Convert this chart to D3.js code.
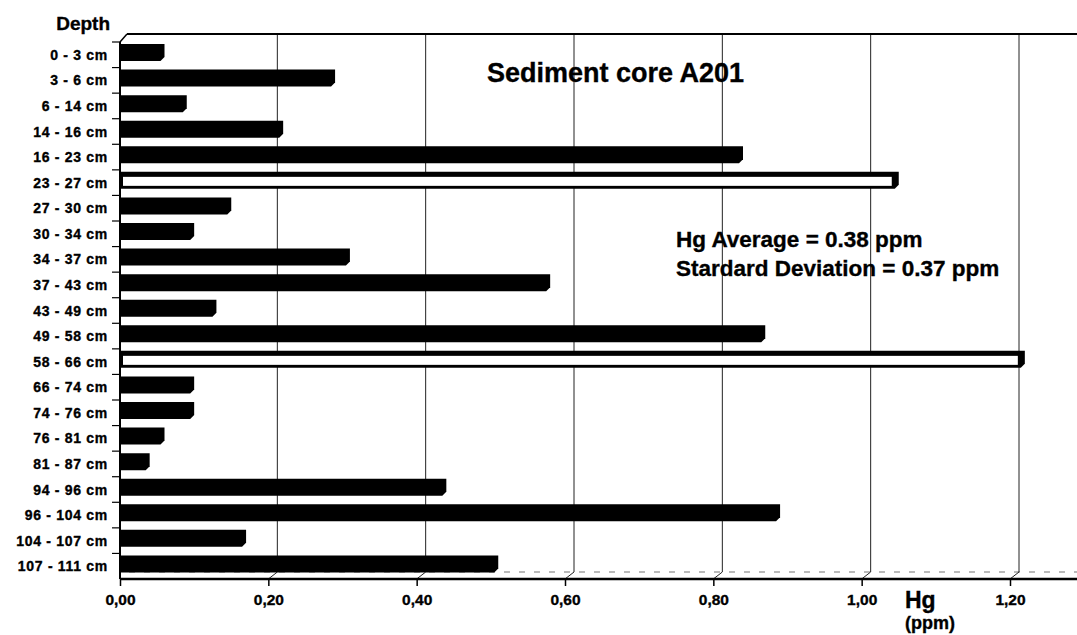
<!DOCTYPE html>
<html>
<head>
<meta charset="utf-8">
<script src="https://cdn.jsdelivr.net/npm/d3@7/dist/d3.min.js"></script>
<style>
  html, body { margin: 0; padding: 0; background: #fff; }
  svg { display: block; }
  text { font-family: "Liberation Sans", Arial, sans-serif; font-weight: bold; fill: #000; stroke: #000; stroke-width: 0.35px; }
</style>
</head>
<body>
<svg id="chart" width="1077" height="635"></svg>
<script>
// ---- data ----
const categories = ["0 - 3 cm", "3 - 6 cm", "6  - 14 cm", "14 - 16 cm", "16 - 23 cm", "23 - 27 cm",
  "27 - 30 cm", "30 - 34 cm", "34 - 37 cm", "37 - 43 cm", "43 - 49 cm", "49 - 58 cm", "58 - 66 cm",
  "66 - 74 cm", "74 - 76 cm", "76 - 81 cm", "81 - 87 cm", "94 - 96 cm", "96 - 104 cm",
  "104  - 107 cm", "107 - 111 cm"];
const hgValues = [0.06, 0.29, 0.09, 0.22, 0.84, 1.05, 0.15, 0.10, 0.31, 0.58, 0.13, 0.87, 1.22,
  0.10, 0.10, 0.06, 0.04, 0.44, 0.89, 0.17, 0.51];
const highlighted = ["23 - 27 cm", "58 - 66 cm"];
const xTicks = [0, 0.2, 0.4, 0.6, 0.8, 1.0, 1.2];
const titleText = "Sediment core A201";
const statsLines = ["Hg Average = 0.38 ppm", "Stardard Deviation = 0.37 ppm"];

(function () {
// ---- layout ----
const svg = d3.select("#chart");
const pLeft = 120, pBottom = 579, pTop = 42, dx = 9, dy = 7;
const x = d3.scaleLinear().domain([0, 1.2]).range([pLeft, 1010]);
const y = d3.scaleBand().domain(categories).range([pTop, pBottom]).paddingInner(0).paddingOuter(0);

// floor line (back)
svg.append("line").attr("x1", pLeft + dx).attr("x2", 1077).attr("y1", pBottom - dy).attr("y2", pBottom - dy)
  .attr("stroke", "#777").attr("stroke-width", 1.2).attr("stroke-dasharray", "6,9");

// gridlines on back wall
const grid = svg.append("g");
xTicks.filter(v => v > 0).forEach(v => {
  grid.append("line").attr("x1", x(v) + dx).attr("x2", x(v) + dx)
    .attr("y1", pTop - dy - 1).attr("y2", pBottom - dy).attr("stroke", "#222").attr("stroke-width", 1);
  grid.append("line").attr("x1", x(v)).attr("x2", x(v) + dx)
    .attr("y1", pBottom).attr("y2", pBottom - dy).attr("stroke", "#222").attr("stroke-width", 1);
});

// top edge of the back wall and corner
svg.append("line").attr("x1", pLeft + dx - 2).attr("x2", 1077).attr("y1", pTop - dy - 1).attr("y2", pTop - dy - 1)
  .attr("stroke", "#000").attr("stroke-width", 2);
svg.append("line").attr("x1", pLeft).attr("x2", pLeft + dx - 2).attr("y1", pTop).attr("y2", pTop - dy - 1)
  .attr("stroke", "#000").attr("stroke-width", 1.5);

// bars
const barTop = 2, barH = 17, cap = 4;
function barPath(d, v) {
  const y0 = y(d) + barTop, y1 = y0 + barH, xe = x(v);
  return `M${pLeft},${y0} L${xe},${y0} L${xe},${y1 - cap} L${xe - cap},${y1} L${pLeft},${y1} Z`;
}
const bars = svg.append("g");
categories.forEach((c, i) => {
  const v = hgValues[i];
  bars.append("path").attr("d", barPath(c, v)).attr("fill", "#000");
  if (highlighted.includes(c)) {
    const y0 = y(c) + barTop;
    bars.append("rect").attr("x", pLeft + 3).attr("y", y0 + 5)
      .attr("width", x(v) - pLeft - 10).attr("height", barH - 8).attr("fill", "#fff");
  }
});

// left axis line
svg.append("line").attr("x1", pLeft).attr("x2", pLeft).attr("y1", pTop).attr("y2", pBottom)
  .attr("stroke", "#000").attr("stroke-width", 2);
// category boundary ticks
categories.forEach(c => {
  const b = y(c);
  svg.append("line").attr("x1", pLeft - 8).attr("x2", pLeft).attr("y1", b).attr("y2", b)
    .attr("stroke", "#000").attr("stroke-width", 1.2);
});

// category labels
const yAxis = svg.append("g").attr("transform", `translate(${pLeft},0)`)
  .call(d3.axisLeft(y).tickSize(0).tickPadding(12));
yAxis.select(".domain").remove();
yAxis.selectAll("text").attr("font-size", 14).attr("dy", "0.36em").style("letter-spacing", "0.7px")
  .style("font-family", '"Liberation Sans", Arial, sans-serif').style("font-weight", "bold").attr("fill", "#000");

// bottom axis
const xAxis = svg.append("g").attr("transform", `translate(0,${pBottom})`)
  .call(d3.axisBottom(x).tickValues(xTicks).tickSize(7).tickPadding(8)
    .tickFormat(d => d3.format(".2f")(d).replace(".", ",")));
xAxis.select(".domain").attr("d", `M${pLeft},0H1077`).attr("stroke-width", 2.5);
xAxis.selectAll(".tick line").attr("stroke-width", 1.5);
xAxis.selectAll("text").attr("font-size", 15.5)
  .style("font-family", '"Liberation Sans", Arial, sans-serif').style("font-weight", "bold").attr("fill", "#000");

// texts
svg.append("text").attr("x", 110).attr("y", 30).attr("text-anchor", "end").attr("font-size", 19).text("Depth");
svg.append("text").attr("x", 487).attr("y", 82).attr("font-size", 27).text(titleText);
statsLines.forEach((t, i) => {
  svg.append("text").attr("x", 676).attr("y", 247 + i * 29).attr("font-size", 22.5).text(t);
});
svg.append("text").attr("x", 905).attr("y", 608).attr("font-size", 23).text("Hg");
svg.append("text").attr("x", 905).attr("y", 629).attr("font-size", 18).text("(ppm)");
})();
</script>
</body>
</html>
